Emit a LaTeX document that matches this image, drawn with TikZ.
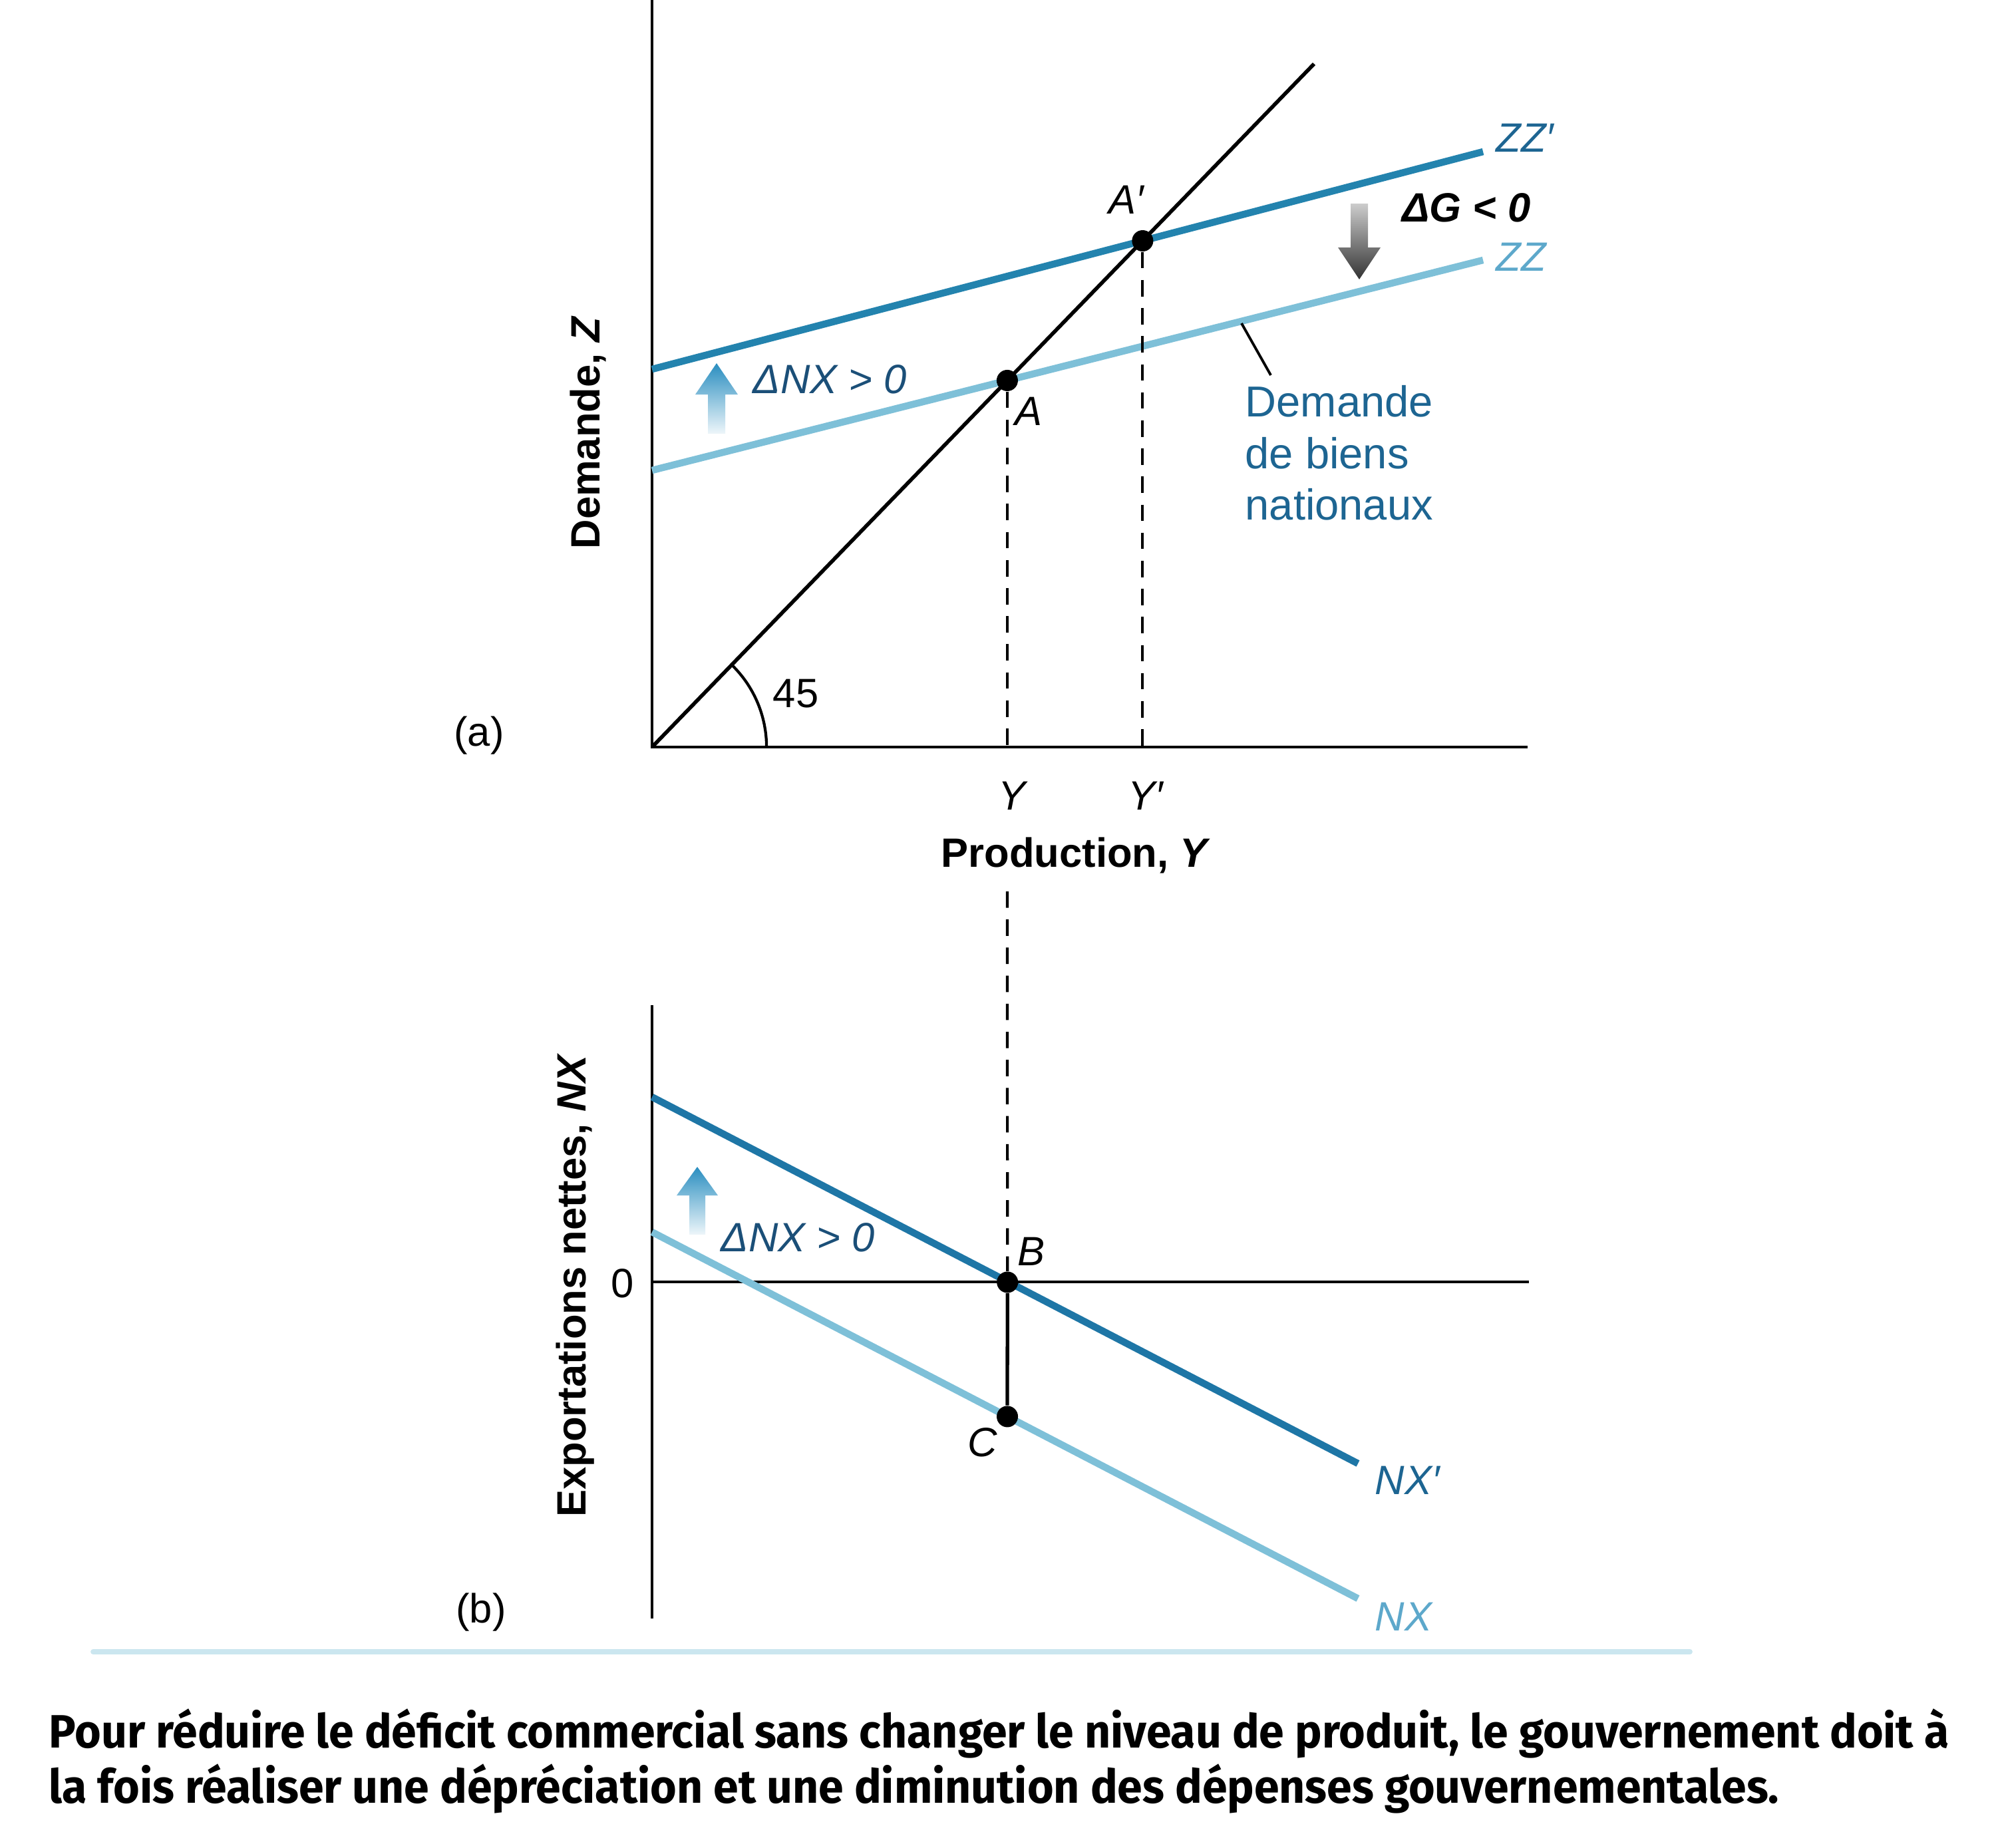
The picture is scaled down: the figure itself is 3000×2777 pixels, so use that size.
\documentclass[tikz,border=0pt]{standalone}
\usepackage{fontspec}
\usepackage{graphicx}
\setmainfont{Liberation Sans}
\newfontfamily\capfont{Fira Sans}
\definecolor{zzdark}{HTML}{2383AE}
\definecolor{nxdark}{HTML}{1E76A6}
\definecolor{zzlight}{HTML}{7EC0D8}
\definecolor{txtdark}{HTML}{1D6592}
\definecolor{txtlight}{HTML}{5DA8CB}
\definecolor{txtnavy}{HTML}{1B4F78}
\definecolor{arrowblue}{HTML}{2A8EC0}
\begin{document}
\begin{tikzpicture}[x=0.01cm,y=-0.01cm,
  every node/.style={inner sep=0pt, font=\fontsize{17.5}{21}\selectfont},
  axisline/.style={line width=1.4pt, black},
  diagline/.style={line width=1.6pt, black},
  curvedark/.style={line width=3pt, zzdark},
  curvenx/.style={line width=3pt, nxdark},
  curvelight/.style={line width=3pt, zzlight},
  guide/.style={line width=1.2pt, black, dash pattern=on 7pt off 5pt},
  dot/.style={circle, fill=black, minimum size=0.32cm, inner sep=0pt},
  ptlab/.style={font=\fontsize{17.5}{21}\selectfont\itshape},
  axlab/.style={font=\fontsize{17.5}{21}\selectfont\bfseries},
  note/.style={font=\fontsize{17.5}{21}\selectfont\itshape, text=txtnavy}
]
\useasboundingbox (0,0) rectangle (3000,2777);

% ---------------- panel (a) ----------------
\coordinate (O) at (980,1123);
\coordinate (ytop) at (980,0);
\coordinate (xend) at (2296,1123);
\coordinate (L45) at (1975,96);
\coordinate (ZZa) at (980,707);
\coordinate (ZZb) at (2229,391);
\coordinate (ZPa) at (980,555);
\coordinate (ZPb) at (2229,228);

\draw[axisline] (ytop) -- (O) -- (xend);
\draw[curvedark] (ZPa) -- (ZPb);
\draw[curvelight] (ZZa) -- (ZZb);
\draw[diagline] (O) -- (L45);
\draw[line width=1.2pt] ([shift={(0:1.72cm)}]O) arc[start angle=0, end angle=46, radius=1.72cm];

\node[dot] (A) at (intersection of O--L45 and ZZa--ZZb) {};
\node[dot] (Ap) at (intersection of O--L45 and ZPa--ZPb) {};
\coordinate (Yt) at (A |- O);
\coordinate (Ypt) at (Ap |- O);
\draw[guide] (A) -- (Yt);
\draw[guide] (Ap) -- (Ypt);

\node[ptlab] (labA) at (1546,618) {A};
\node[ptlab] (labAp) at (1693,300) {A′};
\node (n45) at (1196,1043) {45};
\node (pa) at (720,1106) {(a)};
\node[ptlab] (labY) at (1521,1196) {Y};
\node[ptlab] (labYp) at (1722,1196) {Y′};
\node[axlab] (prod) at (1617,1286) {Production, \textit{Y}};
\node[axlab, rotate=90] (demz) at (884,650) {Demande, \textit{Z}};

\node[font=\fontsize{17.5}{21}\selectfont\itshape, text=txtdark, anchor=west] (lZZp) at (2248,207) {ZZ′};
\node[font=\fontsize{17.5}{21}\selectfont\itshape, text=txtlight, anchor=west] (lZZ) at (2248,386) {ZZ};
\node[font=\fontsize{17.5}{21}\selectfont\bfseries\itshape] (dG) at (2204,312) {ΔG < 0};
\node[note, anchor=west] (dNXa) at (1131,570) {ΔNX > 0};

\node[anchor=west, align=left, text=txtdark, font=\fontsize{18.5}{22.1}\selectfont] (dem) at (1871,681) {Demande\\de biens\\nationaux};
\coordinate (leadS) at (1866,486);
\draw[line width=1.1pt] (leadS) -- (1910,564);

% arrows panel (a)
\shade[top color=arrowblue, bottom color=arrowblue!8]
  (1077,546) -- (1109,593) -- (1090,593) -- (1090,652) -- (1064,652) -- (1064,593) -- (1045,593) -- cycle;
\shade[top color=black!20, bottom color=black!80]
  (2030,306) -- (2056,306) -- (2056,372) -- (2075,372) -- (2043,420) -- (2011,372) -- (2030,372) -- cycle;

% ---------------- panel (b) ----------------
\coordinate (Ob) at (980,1927);
\coordinate (ybtop) at (980,1511);
\coordinate (ybbot) at (980,2433);
\coordinate (xbend) at (2298,1927);
\coordinate (NPa) at (980,1649);
\coordinate (NPb) at (2041,2200);
\coordinate (NXa) at (980,1852);
\coordinate (NXb) at (2041,2403);

\draw[axisline] (ybtop) -- (ybbot);
\draw[line width=1.2pt] (Ob) -- (xbend);
\draw[curvelight] (NXa) -- (NXb);
\draw[curvenx] (NPa) -- (NPb);

\coordinate (dtop) at (A |- 0,1340);
\node[dot] (B) at (intersection of dtop--A and Ob--xbend) {};
\node[dot] (C) at (intersection of dtop--A and NXa--NXb) {};
\draw[guide] (dtop) -- (B);
\draw[line width=1.5pt] (B) -- (C);

\node[ptlab] (labB) at (1550,1881) {B};
\node[ptlab] (labC) at (1477,2168) {C};
\node (zero) at (936,1929) {0};
\node (pb) at (723,2424) {(b)};
\node[axlab, rotate=90] (expnx) at (865,1932) {Exportations nettes, \textit{NX}};
\node[font=\fontsize{17.5}{21}\selectfont\itshape, text=txtdark, anchor=west] (lNXp) at (2066,2225) {NX′};
\node[font=\fontsize{17.5}{21}\selectfont\itshape, text=txtlight, anchor=west] (lNX) at (2066,2430) {NX};
\node[note, anchor=west] (dNXb) at (1083,1860) {ΔNX > 0};

\shade[top color=arrowblue, bottom color=arrowblue!8]
  (1048,1754) -- (1079,1797) -- (1060,1797) -- (1060,1856) -- (1036,1856) -- (1036,1797) -- (1017,1797) -- cycle;

% ---------------- rule and caption ----------------
\draw[line width=2.2pt, zzlight!40, line cap=round] (140,2483) -- (2540,2483);
\node[anchor=base west] (cap) at (73,2627) {\resizebox{28.54cm}{\height}{\capfont\bfseries\fontsize{20}{23.6}\selectfont\begin{tabular}[t]{@{}l@{}}Pour réduire le déficit commercial sans changer le niveau de produit, le gouvernement doit à\\la fois réaliser une dépréciation et une diminution des dépenses gouvernementales.\end{tabular}}};
\end{tikzpicture}
\end{document}
